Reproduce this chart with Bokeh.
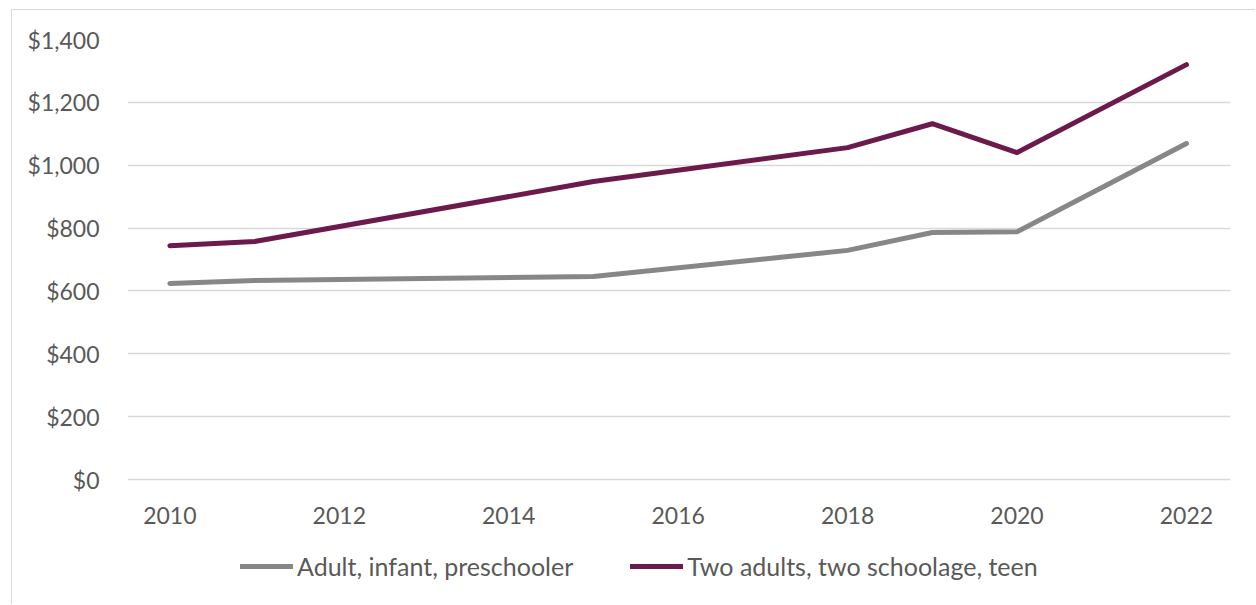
from bokeh.plotting import figure
from bokeh.models import ColumnDataSource, NumeralTickFormatter, FixedTicker, Range1d, Legend, LegendItem
from bokeh.embed import file_html
from bokeh.resources import INLINE

years = [2010, 2011, 2015, 2018, 2019, 2020, 2022]
adult_infant_preschooler = [624, 633, 646, 729, 786, 788, 1069]
two_adults_schoolage_teen = [744, 757, 948, 1056, 1132, 1040, 1320]
series_names = ["Adult, infant, preschooler", "Two adults, two schoolage, teen"]
y_ticks = [0, 200, 400, 600, 800, 1000, 1200, 1400]
x_ticks = [2010, 2012, 2014, 2016, 2018, 2020, 2022]

GRAY = "#878787"
MAROON = "#6b1a4b"
TEXT = "#595959"
FONT = "Lato"

src = ColumnDataSource(dict(x=years, a=adult_infant_preschooler, b=two_adults_schoolage_teen))

# frame: 566 px tall; 0..1400 occupies the top 440 px
y_min = 1400 - 566 * 1400 / 440

p = figure(width=1244, height=595, output_backend="svg", toolbar_location=None,
           x_range=Range1d(2009.5, 2022.52), y_range=Range1d(y_min, 1400),
           min_border_left=115, min_border_right=26, min_border_top=29, min_border_bottom=0)
p.styles = {"margin-left": "11px", "margin-top": "9px",
            "border-left": "1px solid #d9d9d9", "border-top": "1px solid #d9d9d9"}
p.outline_line_color = None
p.background_fill_color = "white"
p.border_fill_color = "white"

r1 = p.line("x", "a", source=src, line_color=GRAY, line_width=5, line_cap="round", line_join="round")
r2 = p.line("x", "b", source=src, line_color=MAROON, line_width=5, line_cap="round", line_join="round")

p.xgrid.grid_line_color = None
p.ygrid.grid_line_color = "#d9d9d9"
p.ygrid.grid_line_width = 1.5
p.ygrid.ticker = FixedTicker(ticks=y_ticks)

p.yaxis.ticker = FixedTicker(ticks=y_ticks)
p.yaxis.formatter = NumeralTickFormatter(format="$0,0")
p.xaxis.ticker = FixedTicker(ticks=x_ticks)
p.xaxis.fixed_location = 0
for ax in (p.xaxis[0], p.yaxis[0]):
    ax.axis_line_color = None
    ax.major_tick_line_color = None
    ax.minor_tick_line_color = None
    ax.major_label_text_font = FONT
    ax.major_label_text_font_size = "23px"
    ax.major_label_text_color = TEXT
p.yaxis.major_label_standoff = 22
p.xaxis.major_label_standoff = 21

legend = Legend(items=[LegendItem(label=series_names[0], renderers=[r1]),
                       LegendItem(label=series_names[1], renderers=[r2])],
                orientation="horizontal", location=(113, 24),
                padding=0, margin=0, spacing=57, glyph_width=53, glyph_height=24,
                label_height=24, label_standoff=4,
                label_text_font=FONT, label_text_font_size="25px", label_text_color=TEXT,
                background_fill_alpha=0, border_line_color=None)
p.add_layout(legend, "center")

open("out.html", "w").write(file_html(p, INLINE))
